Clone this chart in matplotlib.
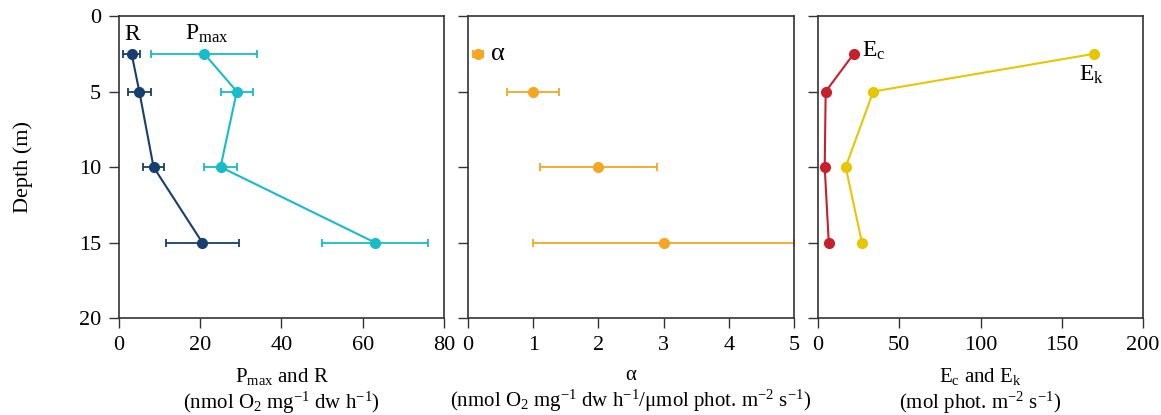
import matplotlib.pyplot as plt

plt.rcParams["font.family"] = ["Liberation Serif", "DejaVu Serif"]
plt.rcParams["mathtext.fontset"] = "custom"
plt.rcParams["mathtext.rm"] = "Liberation Serif"
plt.rcParams["mathtext.it"] = "Liberation Serif:italic"
plt.rcParams["font.size"] = 16

depth = [2.5, 5, 10, 15]

r_mean = [3.1, 5.0, 8.5, 20.5]
r_err = [2.1, 2.9, 2.7, 9.0]
pmax_mean = [21.0, 29.0, 25.0, 63.0]
pmax_err = [13.0, 4.0, 4.0, 13.0]

alpha_mean = [0.15, 1.0, 2.0, 3.0]
alpha_err = [0.08, 0.4, 0.9, 2.0]

ec = [22.0, 4.7, 4.1, 6.6]
ek = [170.0, 34.0, 17.0, 27.0]

c_r = "#173f6e"
c_pmax = "#17bcc9"
c_alpha = "#f5a623"
c_ec = "#c8202a"
c_ek = "#e6c700"
spine = "#333333"

fig = plt.figure(figsize=(11.61, 4.15), dpi=100)
bottom, height = 0.2337, 0.7277
ax1 = fig.add_axes([0.1025, bottom, 0.2799, height])
ax2 = fig.add_axes([0.4031, bottom, 0.2808, height])
ax3 = fig.add_axes([0.7046, bottom, 0.2799, height])

eb = dict(marker="o", markersize=7, capsize=3, elinewidth=1.3, capthick=1.3)

ax1.errorbar(r_mean, depth, xerr=r_err, color=c_r, lw=1.5, **eb)
ax1.errorbar(pmax_mean, depth, xerr=pmax_err, color=c_pmax, lw=1.5, **eb)
ax1.text(3.2, 1.6, "R", ha="center", va="baseline", fontsize=17)
ax1.text(21.5, 1.6, "P$_{\\mathrm{max}}$", ha="center", va="baseline", fontsize=17)
ax1.set_xlim(0, 80)
ax1.set_xticks([0, 20, 40, 60, 80])
ax1.set_xlabel("P$_{\\mathrm{max}}$ and R\n(nmol O$_2$ mg$^{\\mathrm{-1}}$ dw h$^{\\mathrm{-1}}$)",
               labelpad=8, linespacing=1.15, fontsize=15)
ax1.set_ylabel("Depth (m)", labelpad=33)

ax2.errorbar(alpha_mean, depth, xerr=alpha_err, color=c_alpha, ls="none", **eb)
ax2.text(0.35, 2.5, "α", ha="left", va="center", fontsize=19)
ax2.set_xlim(0, 5)
ax2.set_xticks([0, 1, 2, 3, 4, 5])
ax2.set_xlabel("α\n(nmol O$_2$ mg$^{\\mathrm{-1}}$ dw h$^{\\mathrm{-1}}$/μmol phot. m$^{\\mathrm{-2}}$ s$^{\\mathrm{-1}}$)",
               labelpad=8, linespacing=1.15, fontsize=15)

ax3.plot(ec, depth, color=c_ec, marker="o", markersize=7, lw=1.5)
ax3.plot(ek, depth, color=c_ek, marker="o", markersize=7, lw=1.5)
ax3.text(27, 2.3, "E$_{\\mathrm{c}}$", ha="left", va="center", fontsize=17)
ax3.text(168, 3.9, "E$_{\\mathrm{k}}$", ha="center", va="center", fontsize=17)
ax3.set_xlim(0, 200)
ax3.set_xticks([0, 50, 100, 150, 200])
ax3.set_xlabel("E$_{\\mathrm{c}}$ and E$_{\\mathrm{k}}$\n(mol phot. m$^{\\mathrm{-2}}$ s$^{\\mathrm{-1}}$)",
               labelpad=8, linespacing=1.15, fontsize=15)

for ax in (ax1, ax2, ax3):
    ax.set_ylim(20, 0)
    ax.set_yticks([0, 5, 10, 15, 20])
    ax.tick_params(direction="out", length=7, width=1, color=spine, labelsize=16, pad=6)
    for s in ax.spines.values():
        s.set_color(spine)
        s.set_linewidth(1.2)
for ax in (ax2, ax3):
    ax.set_yticklabels([])

fig.savefig("out.png", dpi=100)
